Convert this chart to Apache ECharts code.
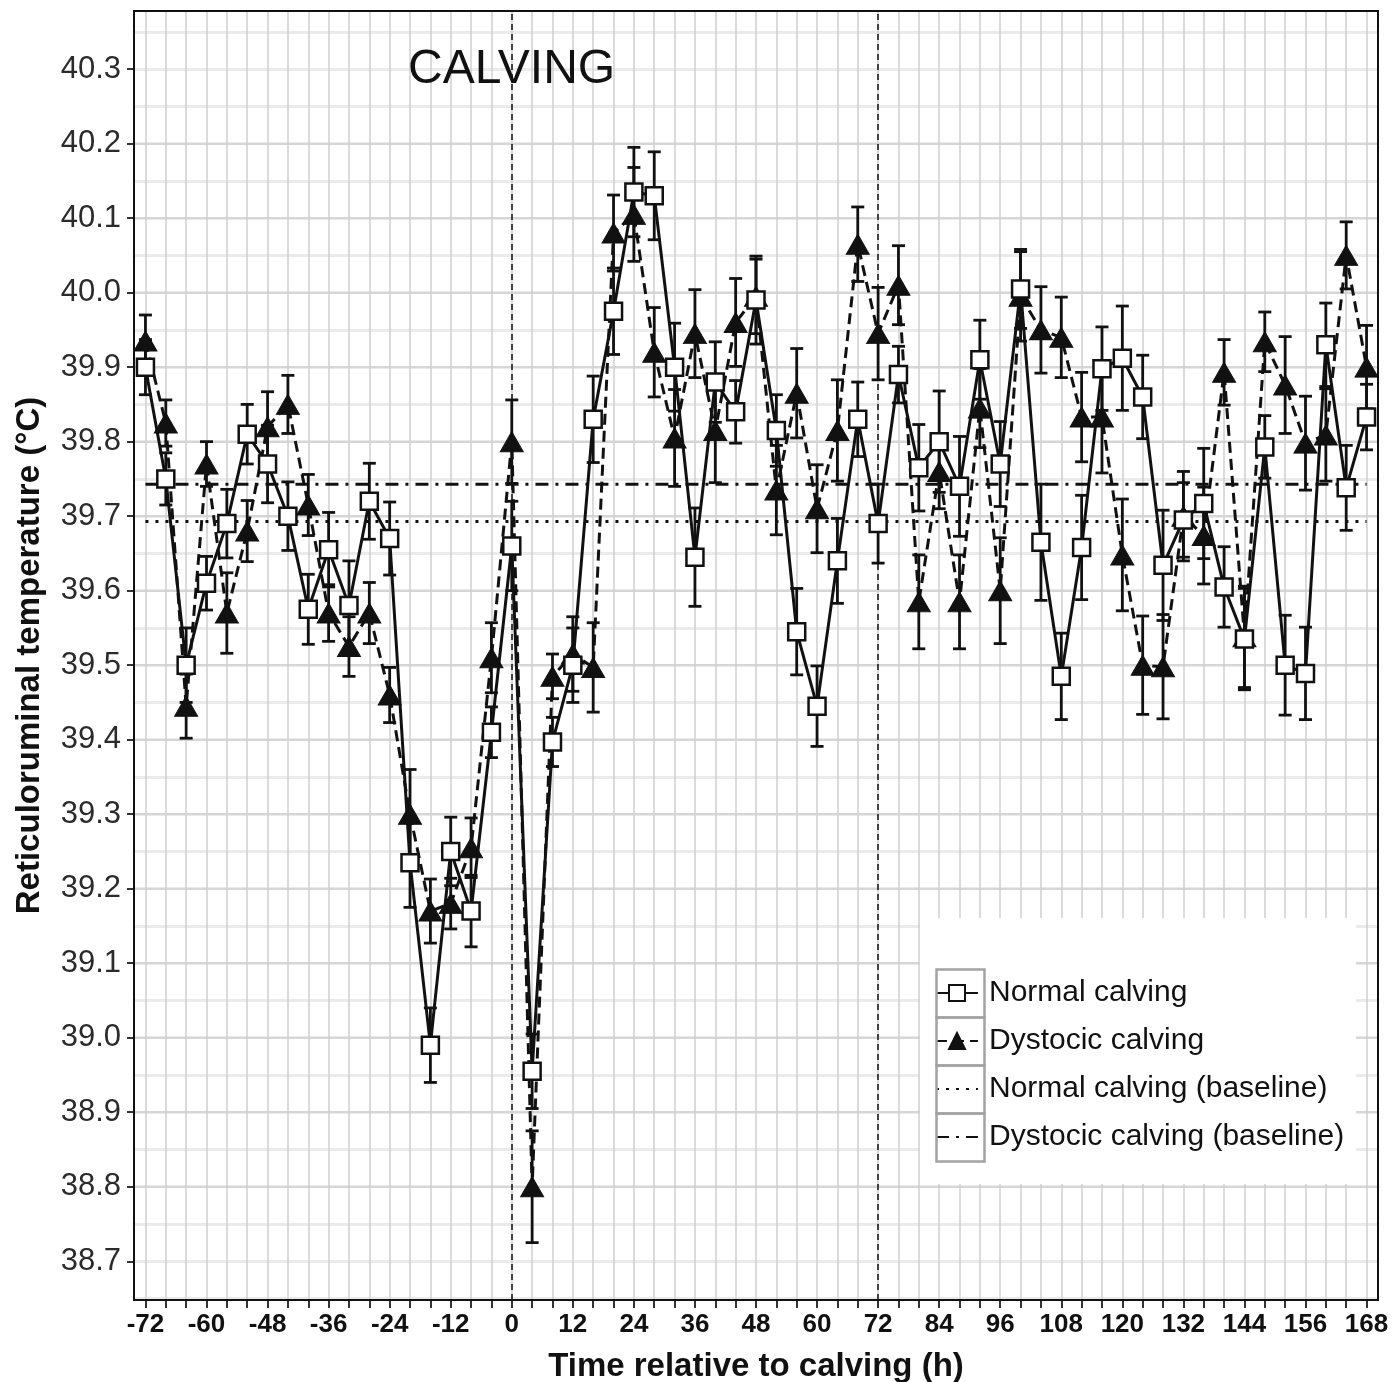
<!DOCTYPE html>
<html>
<head>
<meta charset="utf-8">
<script src="https://cdn.jsdelivr.net/npm/echarts@6/dist/echarts.min.js"></script>
<style>
  html, body { margin: 0; padding: 0; background: #fff; }
  #chart { width: 1392px; height: 1382px; }
</style>
</head>
<body>
<div id="chart"></div>
<script>
// hours relative to calving
var hours = [-72,-68,-64,-60,-56,-52,-48,-44,-40,-36,-32,-28,-24,-20,-16,-12,-8,-4,
  0,4,8,12,16,20,24,28,32,36,40,44,48,52,56,60,64,68,72,76,80,84,88,92,96,100,
  104,108,112,116,120,124,128,132,136,140,144,148,152,156,160,164,168];

// mean temperature, normal calving
var normalMean = [39.90,39.75,39.50,39.61,39.69,39.81,39.77,39.70,39.575,39.655,39.58,39.72,39.67,
  39.235,38.99,39.25,39.17,39.41,39.66,38.955,39.397,39.50,39.83,39.975,40.135,40.13,39.90,
  39.645,39.88,39.84,39.99,39.815,39.545,39.445,39.64,39.83,39.69,39.89,39.765,39.80,39.74,
  39.91,39.77,40.005,39.665,39.485,39.658,39.898,39.912,39.86,39.634,39.695,39.717,39.605,
  39.535,39.793,39.50,39.489,39.93,39.738,39.833];
var normalErr = [0.037,0.035,0.05,0.036,0.046,0.04,0.052,0.046,0.047,0.05,0.06,0.051,0.049,
  0.06,0.05,0.046,0.048,0.034,0.06,0.05,0.033,0.05,0.058,0.058,0.06,0.059,0.059,
  0.066,0.054,0.042,0.059,0.048,0.058,0.054,0.057,0.05,0.053,0.038,0.058,0.068,0.067,
  0.053,0.057,0.053,0.078,0.058,0.07,0.056,0.07,0.056,0.074,0.05,0.074,0.054,
  0.068,0.042,0.067,0.062,0.056,0.057,0.044];

// mean temperature, dystocic calving
var dystMean = [39.935,39.825,39.445,39.77,39.57,39.68,39.82,39.85,39.715,39.57,39.525,39.57,39.46,
  39.30,39.17,39.18,39.255,39.51,39.80,38.80,39.485,39.515,39.497,40.08,40.105,39.92,39.805,
  39.945,39.815,39.96,39.995,39.735,39.865,39.71,39.815,40.065,39.945,40.01,39.585,39.76,39.585,
  39.845,39.60,39.995,39.95,39.94,39.833,39.833,39.648,39.50,39.498,39.70,39.674,39.893,
  39.538,39.934,39.876,39.798,39.809,40.05,39.90];
var dystErr = [0.035,0.031,0.043,0.03,0.054,0.041,0.047,0.039,0.041,0.038,0.04,0.041,0.037,
  0.06,0.043,0.034,0.04,0.047,0.056,0.075,0.03,0.05,0.06,0.051,0.063,0.06,0.065,
  0.059,0.07,0.059,0.05,0.06,0.06,0.059,0.068,0.05,0.062,0.053,0.063,0.05,0.063,
  0.053,0.071,0.06,0.058,0.054,0.06,0.075,0.075,0.066,0.07,0.06,0.065,0.044,
  0.068,0.04,0.065,0.063,0.062,0.045,0.056];

// baseline means
var normalBaseline = 39.693;
var dystBaseline = 39.743;
var baselineSpan = [-72, 168];

// reference events: calving and 72 h after
var eventHours = [0, 72];

// axis ticks
var xTicks = [];
for (var t = -72; t <= 168; t += 4) xTicks.push(t);
var xLabels = [-72,-60,-48,-36,-24,-12,0,12,24,36,48,60,72,84,96,108,120,132,144,156,168];
var yTicks = [38.7,38.8,38.9,39.0,39.1,39.2,39.3,39.4,39.5,39.6,39.7,39.8,39.9,40.0,40.1,40.2,40.3];

var FONT = '"Liberation Sans", Arial, Helvetica, sans-serif';
var INK = '#111111';
var GRID = '#cfcfd2';
var Y_MIN = 38.648, Y_MAX = 40.378;

function pairs(means) {
  return hours.map(function (h, i) { return [h, means[i]]; });
}

function errorBars(name, means, errs) {
  return {
    type: 'custom',
    name: name,
    yAxisIndex: 1,
    silent: true,
    z: 2,
    data: hours.map(function (h, i) { return [h, means[i] - errs[i], means[i] + errs[i]]; }),
    encode: { x: 0, y: [1, 2] },
    renderItem: function (params, api) {
      var x = api.value(0);
      var lo = api.coord([x, api.value(1)]);
      var hi = api.coord([x, api.value(2)]);
      var hw = 6.5;
      var st = { stroke: INK, lineWidth: 2.8 };
      return {
        type: 'group',
        children: [
          { type: 'line', shape: { x1: lo[0], y1: lo[1], x2: hi[0], y2: hi[1] }, style: st },
          { type: 'line', shape: { x1: lo[0] - hw, y1: lo[1], x2: lo[0] + hw, y2: lo[1] }, style: st },
          { type: 'line', shape: { x1: hi[0] - hw, y1: hi[1], x2: hi[0] + hw, y2: hi[1] }, style: st }
        ]
      };
    }
  };
}

function keyBox(top) {
  return {
    type: 'rect', left: 934, top: top, z: 20,
    shape: { width: 48, height: 48 },
    style: { fill: null, stroke: '#a3a3a3', lineWidth: 2.5 }
  };
}

var chart = echarts.init(document.getElementById('chart'));

var option = {
  backgroundColor: '#fff',
  animation: false,
  textStyle: { fontFamily: FONT },
  grid: {
    left: 134, right: 14, top: 11, bottom: 82,
    outerBoundsMode: 'none',
    containLabel: false,
    show: true, borderColor: INK, borderWidth: 2, backgroundColor: 'transparent', z: 3
  },
  xAxis: {
    type: 'value',
    min: -74.25, max: 170.25,
    name: 'Time relative to calving (h)',
    nameLocation: 'middle',
    nameGap: 50,
    nameTextStyle: { fontSize: 33, fontWeight: 'bold', color: INK, fontFamily: FONT },
    axisLine: { show: false },
    axisTick: { show: true, length: 8, customValues: xTicks, lineStyle: { color: '#333', width: 2 } },
    axisLabel: {
      customValues: xLabels,
      fontSize: 26, fontWeight: 'bold', color: INK, margin: 12,
      formatter: function (v) { return String(v); }
    },
    splitLine: { show: false }
  },
  yAxis: [
    {
      // minor grid lines every 0.05
      type: 'value',
      position: 'left',
      min: Y_MIN, max: Y_MAX,
      minInterval: 0.05, maxInterval: 0.05,
      axisLine: { show: false },
      axisTick: { show: false },
      axisLabel: { show: false },
      splitLine: { show: true, showMinLine: false, showMaxLine: false, lineStyle: { color: '#ebebeb', width: 3 } }
    },
    {
      type: 'value',
      position: 'left',
      min: Y_MIN, max: Y_MAX,
      minInterval: 0.1, maxInterval: 0.1,
      name: 'Reticuloruminal temperature (°C)',
      nameLocation: 'middle',
      nameGap: 88,
      nameTextStyle: { fontSize: 33, fontWeight: 'bold', color: INK, fontFamily: FONT },
      axisLine: { show: false },
      axisTick: { show: true, length: 7, customValues: yTicks, lineStyle: { color: '#333', width: 2 } },
      axisLabel: {
        customValues: yTicks,
        fontSize: 31, color: '#2b2b2b', margin: 13,
        formatter: function (v) { return v.toFixed(1); }
      },
      splitLine: { show: true, showMinLine: false, showMaxLine: false, lineStyle: { color: GRID, width: 1.5 } }
    }
  ],
  legend: {
    orient: 'vertical',
    left: 920, top: 918,
    padding: [60, 12, 32, 15],
    backgroundColor: '#fff',
    itemWidth: 42, itemHeight: 20, itemGap: 18,
    selectedMode: false,
    textStyle: { fontSize: 30, color: INK, fontFamily: FONT, padding: [0, 0, 0, 6] },
    data: [
      'Normal calving',
      'Dystocic calving',
      { name: 'Normal calving (baseline)', itemStyle: { opacity: 0 } },
      { name: 'Dystocic calving (baseline)', itemStyle: { opacity: 0 } }
    ],
    z: 10
  },
  graphic: [
    {
      type: 'text', left: 408, top: 46, z: 20,
      style: { text: 'CALVING', fill: INK, font: 'normal 48px ' + FONT }
    },
    keyBox(967), keyBox(1015), keyBox(1063), keyBox(1111)
  ],
  series: [
    {
      // vertical grid lines at every x tick
      name: 'xgrid',
      type: 'line',
      yAxisIndex: 1,
      data: [],
      silent: true,
      z: 1,
      markLine: {
        z: 1,
        silent: true,
        symbol: 'none',
        label: { show: false },
        lineStyle: { color: GRID, width: 1.5, type: 'solid' },
        data: xTicks.map(function (h) { return { xAxis: h }; })
      }
    },
    {
      name: 'Normal calving (baseline)',
      type: 'line',
      yAxisIndex: 1,
      data: baselineSpan.map(function (h) { return [h, normalBaseline]; }),
      symbol: 'none',
      silent: true,
      z: 2,
      lineStyle: { color: INK, width: 3, type: [3, 7] },
      itemStyle: { color: INK },
      markLine: {
        z: 3,
        silent: true,
        symbol: 'none',
        label: { show: false },
        lineStyle: { color: INK, width: 1.5, type: [6, 4] },
        data: eventHours.map(function (h) { return { xAxis: h }; })
      }
    },
    {
      name: 'Dystocic calving (baseline)',
      type: 'line',
      yAxisIndex: 1,
      data: baselineSpan.map(function (h) { return [h, dystBaseline]; }),
      symbol: 'none',
      silent: true,
      z: 2,
      lineStyle: { color: INK, width: 3, type: [13, 7, 3, 7] },
      itemStyle: { color: INK }
    },
    errorBars('Dystocic SE', dystMean, dystErr),
    errorBars('Normal SE', normalMean, normalErr),
    {
      name: 'Dystocic calving',
      type: 'line',
      yAxisIndex: 1,
      data: pairs(dystMean),
      symbol: 'triangle',
      symbolSize: [23, 20],
      z: 4,
      lineStyle: { color: INK, width: 3, type: [11, 6] },
      itemStyle: { color: INK, borderColor: INK, borderWidth: 1 }
    },
    {
      name: 'Normal calving',
      type: 'line',
      yAxisIndex: 1,
      data: pairs(normalMean),
      symbol: 'rect',
      symbolSize: 17,
      z: 5,
      lineStyle: { color: INK, width: 3 },
      itemStyle: { color: '#fff', borderColor: INK, borderWidth: 2.5 }
    }
  ]
};

chart.setOption(option);
</script>
</body>
</html>
